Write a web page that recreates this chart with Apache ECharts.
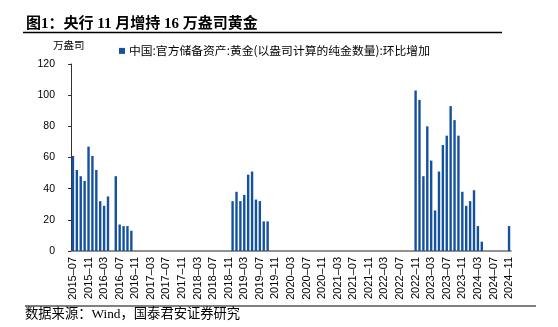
<!DOCTYPE html>
<html>
<head>
<meta charset="utf-8">
<script src="https://cdn.jsdelivr.net/npm/echarts@6/dist/echarts.min.js"></script>
<style>
html,body{margin:0;padding:0;background:#fff;}
#chart{width:558px;height:327px;}
</style>
</head>
<body>
<div id="chart"></div>
<script>
// Categories: monthly, 2015-07 .. 2024-11
var startYear = 2015, startMonth = 7, endYear = 2024, endMonth = 11;
var months = [];
for (var y = startYear; y <= endYear; y++) {
  for (var m = 1; m <= 12; m++) {
    if (y === startYear && m < startMonth) continue;
    if (y === endYear && m > endMonth) break;
    months.push(y + '-' + (m < 10 ? '0' + m : '' + m));
  }
}

// 环比增加 (万盎司), year by year
var v2015 = [61, 52, 48, 45, 67, 61];                          // Jul-Dec
var v2016 = [52, 32, 29, 35, 0, 48, 17, 16, 16, 13, 0, 0];
var v2017 = [0, 0, 0, 0, 0, 0, 0, 0, 0, 0, 0, 0];
var v2018 = [0, 0, 0, 0, 0, 0, 0, 0, 0, 0, 0, 32];
var v2019 = [38, 32, 36, 49, 51, 33, 32, 19, 19, 0, 0, 0];
var v2020 = [0, 0, 0, 0, 0, 0, 0, 0, 0, 0, 0, 0];
var v2021 = [0, 0, 0, 0, 0, 0, 0, 0, 0, 0, 0, 0];
var v2022 = [0, 0, 0, 0, 0, 0, 0, 0, 0, 0, 103, 97];
var v2023 = [48, 80, 58, 26, 51, 68, 74, 93, 84, 74, 38, 29];
var v2024 = [32, 39, 16, 6, 0, 0, 0, 0, 0, 0, 16];             // Jan-Nov
var values = [].concat(v2015, v2016, v2017, v2018, v2019, v2020, v2021, v2022, v2023, v2024);

var yTicks = [0, 20, 40, 60, 80, 100, 120];

var titleText = '图1：央行 11 月增持 16 万盎司黄金';
var unitText = '万盎司';
var seriesName = '中国:官方储备资产:黄金(以盎司计算的纯金数量):环比增加';
var sourceText = '数据来源：Wind，国泰君安证券研究';

var cjk = "'Noto Sans CJK SC', sans-serif";
var serifCjk = "'Liberation Serif', 'Noto Sans CJK SC', serif";
var latin = "'Liberation Sans', Arial, sans-serif";

var chart = echarts.init(document.getElementById('chart'), null, {renderer: 'canvas'});
chart.setOption({
  animation: false,
  backgroundColor: '#fff',
  title: {
    text: titleText,
    left: 21, top: 12,
    textStyle: {fontFamily: serifCjk, fontSize: 15, fontWeight: 'bold', color: '#000'}
  },
  legend: {
    data: [seriesName],
    left: 114, top: 40,
    icon: 'rect', itemWidth: 6, itemHeight: 6, itemGap: 4,
    textStyle: {fontFamily: cjk, fontSize: 11.8, color: '#000', padding: [0, 0, 0, -1]}
  },
  grid: {left: 71, right: 47, top: 64, bottom: 76, containLabel: false},
  xAxis: {
    type: 'category',
    data: months,
    boundaryGap: true,
    axisLine: {lineStyle: {color: '#6e6e6e', width: 1.5}},
    axisTick: {interval: 3, length: 4, lineStyle: {color: '#4a4a4a'}},
    axisLabel: {
      interval: 3, rotate: 90, margin: 6,
      fontFamily: latin, fontSize: 11, color: '#000',
      formatter: function (s) { return s.replace('-', '\u2013'); }
    },
    splitLine: {show: false}
  },
  yAxis: {
    type: 'value',
    min: yTicks[0], max: yTicks[yTicks.length - 1], interval: 20,
    axisLine: {show: true, lineStyle: {color: '#333', width: 1}},
    axisTick: {show: true, length: 3, lineStyle: {color: '#333'}},
    axisLabel: {margin: 16, fontFamily: latin, fontSize: 10.5, color: '#000'},
    splitLine: {show: false}
  },
  series: [{
    name: seriesName,
    type: 'bar',
    data: values,
    barWidth: 2.4,
    itemStyle: {color: '#1452a0'}
  }],
  graphic: [
    {type: 'line', shape: {x1: 23, y1: 32.5, x2: 502, y2: 32.5}, style: {stroke: '#000', lineWidth: 1.3}},
    {type: 'text', left: 53, top: 40, style: {text: unitText, font: "10.5px 'Noto Sans CJK SC'", fill: '#000'}},
    {type: 'line', shape: {x1: 25, y1: 306, x2: 536, y2: 306}, style: {stroke: '#000', lineWidth: 1}},
    {type: 'text', left: 25, top: 308, style: {text: sourceText, font: "13.3px 'Liberation Serif', 'Noto Sans CJK SC'", fill: '#000'}}
  ]
});
</script>
</body>
</html>
